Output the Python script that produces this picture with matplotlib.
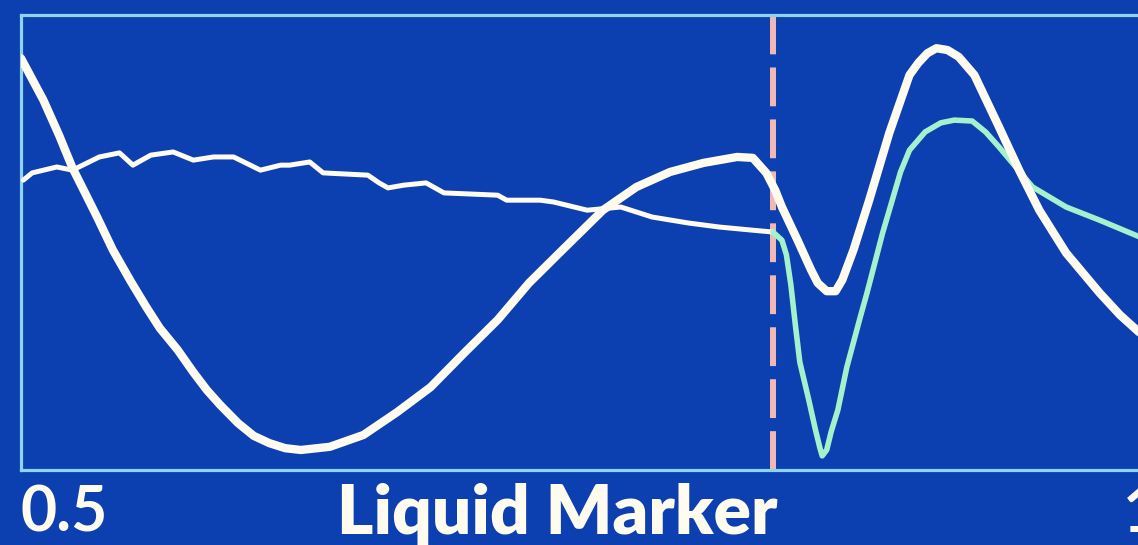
import matplotlib
matplotlib.use("Agg")
import matplotlib.pyplot as plt

# --- data (x: 0.5 .. 1.0, y: arbitrary signal units 0..100) ---
thick_x = [0.500, 0.510, 0.517, 0.523, 0.528, 0.534, 0.541, 0.549, 0.556, 0.562,
           0.570, 0.577, 0.583, 0.589, 0.597, 0.604, 0.611, 0.618, 0.625, 0.638,
           0.653, 0.668, 0.683, 0.698, 0.713, 0.727, 0.742, 0.760, 0.775, 0.790,
           0.805, 0.820, 0.827, 0.833, 0.837, 0.840, 0.847, 0.853, 0.856, 0.860,
           0.864, 0.867, 0.872, 0.879, 0.888, 0.897, 0.901, 0.905, 0.909, 0.914,
           0.919, 0.926, 0.937, 0.946, 0.955, 0.967, 0.982, 0.991, 1.000]
thick_y = [90.5, 81.3, 73.6, 66.4, 61.5, 55.6, 48.4, 41.5, 35.8, 31.2,
           26.4, 21.5, 17.6, 14.3, 10.3, 7.5, 5.9, 4.8, 4.4, 5.1,
           7.7, 12.7, 18.2, 25.7, 33.0, 41.1, 48.4, 57.1, 62.2, 65.5,
           67.5, 68.8, 68.6, 65.3, 61.5, 57.8, 50.5, 44.0, 41.1, 39.3,
           39.3, 41.8, 48.4, 59.3, 74.1, 86.8, 89.5, 91.6, 92.7, 92.3,
           90.8, 86.8, 75.4, 65.9, 57.1, 47.7, 38.9, 34.1, 30.1]

thin_pre_x = [0.501, 0.505, 0.516, 0.523, 0.535, 0.544, 0.550, 0.558, 0.568, 0.577,
              0.586, 0.595, 0.607, 0.616, 0.620, 0.629, 0.635, 0.655, 0.660, 0.664,
              0.671, 0.681, 0.689, 0.713, 0.717, 0.732, 0.738, 0.753, 0.768, 0.782,
              0.798, 0.812, 0.827, 0.836]
thin_pre_y = [63.7, 65.3, 66.6, 65.9, 68.8, 69.7, 67.0, 69.2, 69.9, 68.1,
              68.8, 68.8, 65.9, 67.0, 67.0, 67.7, 65.3, 64.8, 63.1, 62.0,
              62.6, 63.1, 60.9, 60.4, 59.3, 59.3, 58.9, 57.1, 57.8, 55.6,
              54.3, 53.4, 52.7, 52.3]

thin_post_x = [0.836, 0.840, 0.842, 0.844, 0.846, 0.848, 0.852, 0.855, 0.857, 0.858,
               0.860, 0.862, 0.865, 0.869, 0.875, 0.878, 0.885, 0.893, 0.897, 0.904,
               0.911, 0.917, 0.925, 0.931, 0.937, 0.952, 0.967, 0.982, 1.000]
thin_post_y = [52.3, 50.5, 47.3, 40.7, 31.9, 23.7, 15.4, 8.8, 4.8, 3.1,
               4.4, 8.4, 13.2, 22.6, 33.6, 38.9, 52.1, 65.5, 70.3, 74.3,
               76.3, 76.9, 76.7, 74.3, 71.0, 62.2, 57.8, 54.9, 51.2]

marker_x = 0.836
x_min_label = "0.5"
x_max_label = "1"
title_label = "Liquid Marker"

# --- style ---
BG = "#0c3fb0"
SPINE = "#8cd4f0"
WHITE = "#fffbee"
MINT = "#a4f2cc"
PINK = "#f2b9b4"

fig = plt.figure(figsize=(11.38, 5.45), dpi=100, facecolor=BG)
ax = fig.add_axes([21 / 1138, 75 / 545, 1119 / 1138, 455 / 545], facecolor=BG)
ax.set_xlim(0.5, 1.0)
ax.set_ylim(0, 100)

ax.axvline(marker_x, color=PINK, lw=4.3, dashes=(6.5, 2.2), zorder=2)
ax.plot(thin_pre_x, thin_pre_y, color=WHITE, lw=3.6, solid_capstyle="round",
        solid_joinstyle="round", zorder=3)
ax.plot(thin_post_x, thin_post_y, color=MINT, lw=4.0, solid_capstyle="round",
        solid_joinstyle="round", zorder=3)
ax.plot(thick_x, thick_y, color=WHITE, lw=6.0, solid_capstyle="round",
        solid_joinstyle="round", zorder=4)

for side in ("left", "top", "bottom"):
    ax.spines[side].set_color(SPINE)
    ax.spines[side].set_linewidth(2.3)
ax.spines["right"].set_visible(False)
ax.set_xticks([])
ax.set_yticks([])

fonts = ["Lato", "DejaVu Sans"]
fig.text(21 / 1138, 1 - 532 / 545, x_min_label, color=WHITE, fontsize=45,
         fontweight="bold", family=fonts, ha="left", va="baseline")
fig.text(557 / 1138, 1 - 534 / 545, title_label, color=WHITE, fontsize=50,
         fontweight="heavy", family=fonts, ha="center", va="baseline")
fig.text(1123 / 1138, 1 - 532 / 545, x_max_label, color=WHITE, fontsize=45,
         fontweight="bold", family=fonts, ha="left", va="baseline")

fig.savefig("out.png", dpi=100, facecolor=BG)
